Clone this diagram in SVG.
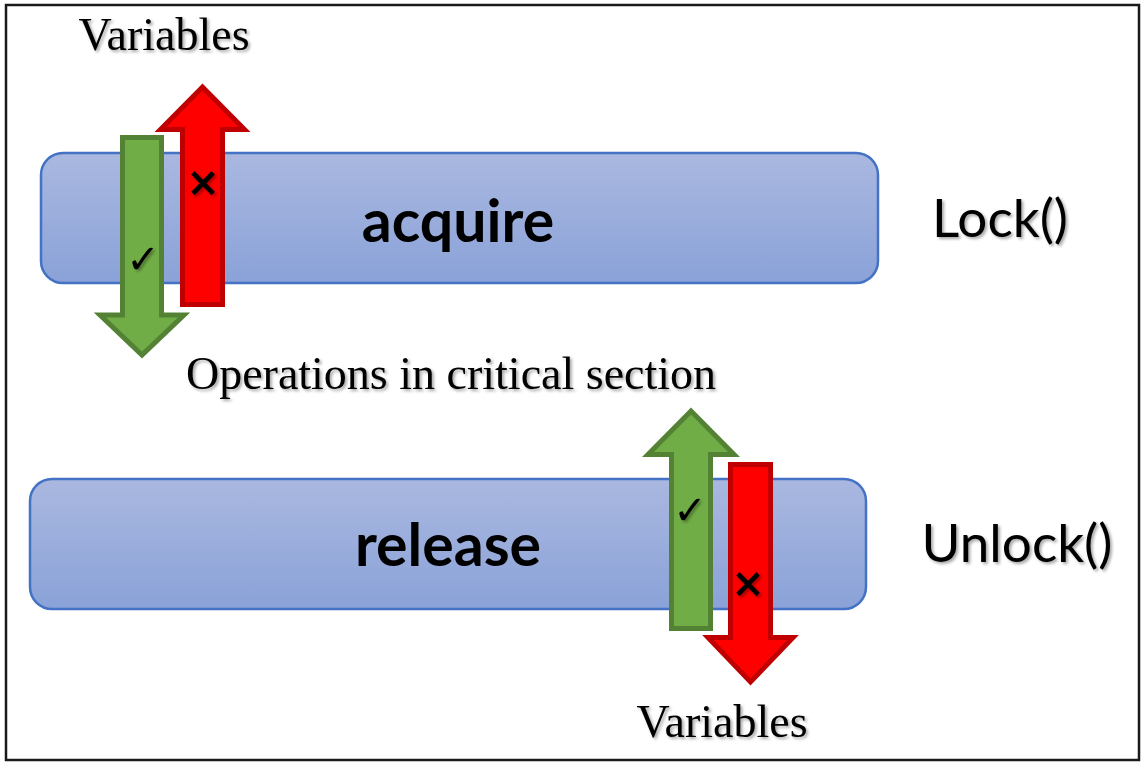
<svg xmlns="http://www.w3.org/2000/svg" width="1143" height="763" viewBox="0 0 1143 763">
  <defs>
    <linearGradient id="boxFill" x1="0" y1="0" x2="0" y2="1">
      <stop offset="0" stop-color="#aab8e0"/>
      <stop offset="1" stop-color="#8aa2d8"/>
    </linearGradient>
    <filter id="shadow" x="-10%" y="-20%" width="130%" height="150%">
      <feDropShadow dx="2" dy="2" stdDeviation="1.5" flood-color="#000" flood-opacity="0.35"/>
    </filter>
    <style>
      .box { fill: url(#boxFill); stroke: #4472c4; stroke-width: 2.5; }
      .green { fill: #70ad47; stroke: #548235; stroke-width: 5; stroke-linejoin: miter; }
      .red { fill: #ff0000; stroke: #c00000; stroke-width: 5; stroke-linejoin: miter; }
      .serif { font-family: "Liberation Serif", "Times New Roman", serif; font-size: 46px; fill: #000; filter: url(#shadow); }
      .bold { font-family: Lato, "Open Sans", sans-serif; font-weight: bold; font-size: 59px; fill: #000; }
      .fn { font-family: Lato, "Open Sans", sans-serif; font-size: 53px; fill: #000; filter: url(#shadow); }
      .check { font-family: "DejaVu Sans", sans-serif; font-size: 40px; font-weight: bold; fill: #000; filter: url(#shadow); }
      .cross { font-family: "DejaVu Sans", sans-serif; font-size: 40px; font-weight: bold; fill: #000; filter: url(#shadow); }
    </style>
  </defs>
  <rect x="0" y="0" width="1143" height="763" fill="#fff"/>
  <rect x="6" y="5" width="1133" height="755" fill="none" stroke="#1a1a1a" stroke-width="2.5"/>

  <g id="acquire">
    <rect class="box" x="41" y="153" width="837" height="130" rx="22"/>
    <text class="bold" x="458" y="242" text-anchor="middle">acquire</text>
  </g>
  <g id="release">
    <rect class="box" x="30" y="479" width="836" height="130" rx="22"/>
    <text class="bold" x="448" y="566" text-anchor="middle">release</text>
  </g>

  <g id="arrows">
    <polygon class="green" points="122.5,137.5 161.5,137.5 161.5,315 184,315 142,355 100,315 122.5,315"/>
    <polygon class="red" points="182.5,304.5 222.5,304.5 222.5,129.5 244.5,129.5 202.5,87 160.5,129.5 182.5,129.5"/>
    <polygon class="green" points="671.5,628.5 710.5,628.5 710.5,454.5 734,454.5 691,411 648,454.5 671.5,454.5"/>
    <polygon class="red" points="730.5,464.5 770.5,464.5 770.5,637.5 793,637.5 750.5,682 708,637.5 730.5,637.5"/>
  </g>

  <g id="marks">
    <text class="check" x="143" y="273" text-anchor="middle">✓</text>
    <text class="cross" x="203" y="196" text-anchor="middle">×</text>
    <text class="check" x="690" y="524" text-anchor="middle">✓</text>
    <text class="cross" x="748" y="597" text-anchor="middle">×</text>
  </g>

  <g id="labels">
    <text class="serif" x="164" y="50" text-anchor="middle">Variables</text>
    <text class="serif" x="451" y="389" text-anchor="middle">Operations in critical section</text>
    <text class="serif" x="722" y="737" text-anchor="middle">Variables</text>
    <text class="fn" x="1000" y="237" text-anchor="middle">Lock()</text>
    <text class="fn" x="1017" y="562" text-anchor="middle">Unlock()</text>
  </g>
</svg>
